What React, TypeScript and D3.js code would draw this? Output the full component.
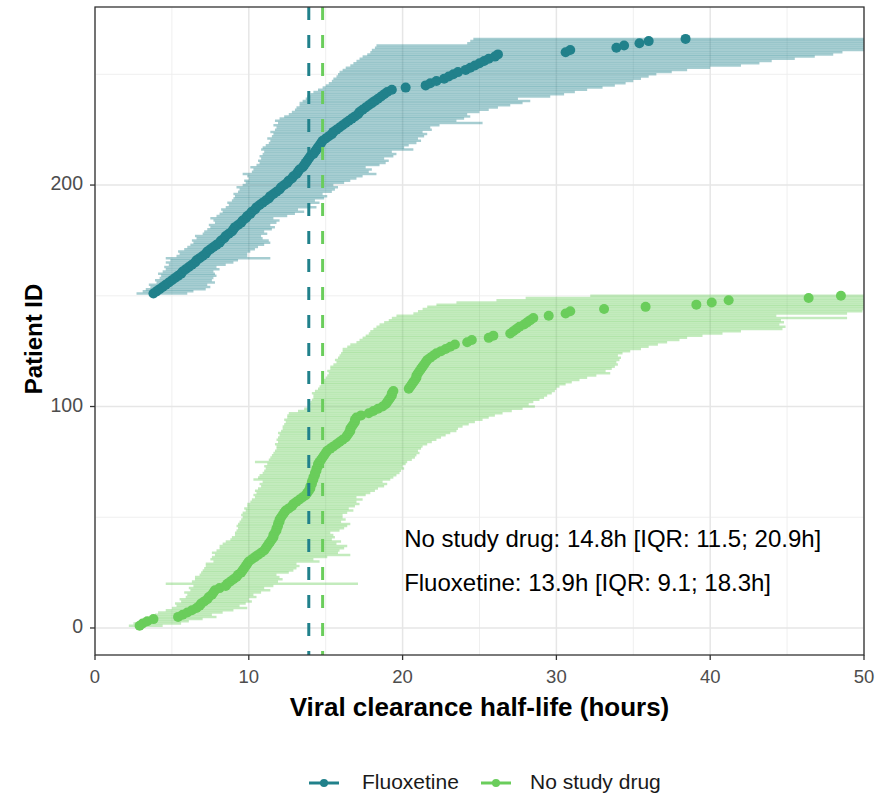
import React from 'react';
import * as d3 from 'd3';

// Groups and colours
const GROUPS = ['Fluoxetine', 'No study drug'];
const COLORS = ['#21818b', '#6acd5b'];
const MEDIANS = [13.9, 14.8];

const X_TICKS = [0, 10, 20, 30, 40, 50];
const X_MINOR = [5, 15, 25, 35, 45];
const Y_TICKS = [0, 100, 200];
const Y_MINOR = [50, 150, 250];

const ANNOTATIONS = [
  'No study drug: 14.8h [IQR: 11.5; 20.9h]',
  'Fluoxetine: 13.9h [IQR: 9.1; 18.3h]',
];

// Fluoxetine patients, IDs 151..266 (sorted by median half-life)
const FX_FIRST_ID = 151;
const FX_MID = [
  3.8, 4.0, 4.2, 4.4, 4.6, 4.8, 5.0, 5.2, 5.4, 5.6,
  5.7, 5.9, 6.1, 6.3, 6.5, 6.6, 6.8, 7.0, 7.2, 7.3,
  7.5, 7.7, 7.9, 8.1, 8.2, 8.4, 8.5, 8.7, 8.9, 9.0,
  9.1, 9.3, 9.5, 9.6, 9.8, 9.9, 10.1, 10.2, 10.4, 10.5,
  10.7, 10.9, 11.1, 11.3, 11.4, 11.6, 11.8, 12.0, 12.1, 12.3,
  12.5, 12.6, 12.8, 12.9, 13.1, 13.2, 13.3, 13.5, 13.6, 13.7,
  13.8, 13.9, 14.0, 14.2, 14.3, 14.4, 14.5, 14.6, 14.7, 14.8,
  15.0, 15.2, 15.4, 15.5, 15.7, 15.9, 16.1, 16.3, 16.5, 16.7,
  16.9, 17.1, 17.2, 17.4, 17.6, 17.8, 18.0, 18.2, 18.4, 18.6,
  18.8, 19.0, 19.3, 20.2, 21.5, 21.8, 22.2, 22.7, 23.0, 23.3,
  23.6, 24.1, 24.4, 24.7, 25.0, 25.3, 25.6, 26.0, 26.2, 30.6,
  30.9, 33.9, 34.4, 35.4, 36.0, 38.4,
];
const FX_LO = [
  2.7, 3.1, 3.3, 3.6, 3.5, 4.0, 3.9, 4.2, 4.3, 4.1,
  4.4, 4.6, 4.5, 4.8, 4.6, 4.9, 4.6, 5.3, 5.5, 5.4,
  5.8, 6.0, 6.2, 6.4, 6.3, 6.6, 6.5, 7.0, 7.1, 7.3,
  7.5, 7.4, 7.8, 7.7, 7.5, 7.9, 8.1, 8.3, 8.2, 8.5,
  8.7, 8.6, 8.9, 9.0, 9.1, 9.0, 9.3, 9.4, 9.2, 9.6,
  9.8, 9.7, 10.0, 9.9, 9.6, 10.2, 10.3, 10.1, 10.5, 10.7,
  10.6, 10.8, 10.7, 10.9, 11.0, 10.8, 10.9, 11.1, 11.3, 11.4,
  11.2, 11.5, 11.6, 11.4, 11.7, 11.8, 11.6, 11.9, 11.7, 12.0,
  12.3, 12.6, 12.8, 13.0, 13.1, 13.3, 13.3, 13.5, 13.7, 13.8,
  14.0, 14.2, 14.5, 14.8, 15.0, 15.2, 15.4, 15.5, 15.7, 15.8,
  15.9, 16.1, 16.3, 16.6, 16.8, 17.0, 17.2, 17.4, 17.7, 17.9,
  18.0, 18.2, 18.3, 24.2, 24.4, 24.6,
];
const FX_HI = [
  6.0, 6.4, 7.2, 7.5, 7.3, 7.8, 7.6, 7.7, 7.9, 7.8,
  7.7, 8.1, 7.9, 8.5, 9.0, 9.3, 11.4, 9.9, 9.9, 10.1,
  10.4, 10.6, 11.0, 11.4, 11.3, 10.9, 10.8, 11.2, 11.0, 11.5,
  11.7, 11.4, 11.8, 12.0, 11.6, 12.5, 13.0, 13.6, 13.2, 14.4,
  14.0, 14.6, 14.3, 14.9, 15.1, 14.8, 15.4, 15.6, 15.8, 15.5,
  16.2, 16.6, 17.0, 17.4, 18.3, 17.8, 18.0, 17.6, 18.5, 18.9,
  19.1, 18.8, 19.4, 19.6, 19.3, 20.7, 20.1, 20.4, 20.9, 21.2,
  21.0, 21.4, 21.6, 21.3, 21.9, 21.8, 22.4, 25.2, 23.5, 24.0,
  24.4, 24.2, 25.0, 25.6, 26.2, 27.0, 27.8, 28.3, 27.5, 29.6,
  30.5, 31.2, 32.0, 33.0, 33.8, 34.5, 35.0, 35.5, 36.0, 36.5,
  37.5, 38.5, 40.0, 42.0, 43.2, 44.0, 45.5, 46.8, 48.0, 48.6,
  55, 58, 60, 62, 65, 70,
];

// No study drug patients, IDs 1..150
const ND_FIRST_ID = 1;
const ND_MID = [
  2.9, 3.1, 3.4, 3.8, 5.4, 5.7, 6.0, 6.3, 6.6, 6.8,
  6.9, 7.1, 7.3, 7.4, 7.6, 7.7, 7.8, 8.1, 8.5, 8.6,
  8.8, 9.0, 9.2, 9.3, 9.5, 9.6, 9.7, 9.8, 9.9, 10.0,
  10.2, 10.4, 10.6, 10.8, 11.0, 11.1, 11.2, 11.3, 11.4, 11.5,
  11.6, 11.6, 11.7, 11.8, 11.8, 11.9, 11.9, 12.0, 12.0, 12.1,
  12.2, 12.3, 12.4, 12.6, 12.8, 12.9, 13.1, 13.3, 13.5, 13.7,
  13.8, 13.9, 14.0, 14.0, 14.1, 14.1, 14.2, 14.2, 14.3, 14.3,
  14.4, 14.4, 14.5, 14.5, 14.6, 14.7, 14.8, 14.9, 15.0, 15.1,
  15.3, 15.5, 15.7, 15.9, 16.1, 16.3, 16.4, 16.5, 16.6, 16.6,
  16.7, 16.8, 16.9, 16.9, 17.0, 17.3, 17.8, 18.1, 18.4, 18.7,
  18.9, 19.0, 19.1, 19.2, 19.3, 19.3, 19.4, 20.4, 20.5, 20.6,
  20.7, 20.8, 20.9, 20.9, 21.0, 21.1, 21.2, 21.3, 21.4, 21.5,
  21.6, 21.8, 22.0, 22.2, 22.5, 22.8, 23.1, 23.4, 24.2, 24.5,
  25.6, 25.9, 27.0, 27.2, 27.4, 27.6, 27.9, 28.1, 28.3, 28.5,
  29.5, 30.6, 30.9, 33.1, 35.8, 39.1, 40.1, 41.2, 46.4, 48.5,
];
const ND_LO = [
  2.2, 2.5, 2.9, 3.1, 3.6, 3.9, 4.1, 4.6, 5.0, 5.3,
  5.2, 5.6, 5.5, 5.9, 6.0, 5.8, 6.2, 6.1, 6.4, 4.6,
  6.3, 6.5, 6.5, 6.8, 6.9, 7.0, 7.1, 7.2, 7.2, 7.7,
  7.5, 7.6, 7.8, 7.6, 7.9, 8.1, 8.1, 8.3, 8.5, 8.8,
  8.9, 9.1, 9.1, 9.2, 9.3, 9.2, 9.3, 9.4, 9.5, 9.6,
  9.5, 9.6, 9.8, 9.7, 9.9, 9.9, 10.1, 10.2, 10.4, 10.3,
  10.5, 10.4, 10.6, 10.8, 10.7, 10.9, 10.3, 10.6, 10.7, 10.9,
  11.0, 11.1, 11.0, 11.2, 10.4, 11.3, 11.4, 11.5, 11.6, 11.7,
  11.8, 11.8, 11.7, 11.9, 11.8, 11.9, 12.0, 11.9, 12.1, 12.2,
  12.2, 12.3, 12.4, 12.3, 12.5, 12.5, 12.6, 13.2, 13.6, 14.0,
  13.9, 14.0, 14.1, 14.2, 14.2, 14.1, 14.3, 14.5, 14.6, 14.7,
  14.8, 14.8, 15.0, 15.1, 15.2, 15.1, 15.3, 15.3, 15.5, 15.7,
  15.6, 15.8, 15.9, 16.0, 16.1, 16.1, 16.4, 16.6, 17.0, 17.2,
  17.4, 17.6, 17.8, 17.9, 18.1, 18.3, 18.5, 18.8, 19.1, 19.3,
  19.6, 20.7, 21.0, 21.3, 21.6, 22.2, 23.5, 26.1, 28.0, 32.2,
];
const ND_HI = [
  4.4, 5.6, 6.1, 7.0, 7.9, 7.6, 8.3, 9.0, 9.9, 9.4,
  9.8, 10.2, 10.0, 10.5, 10.3, 10.8, 11.4, 11.0, 11.6, 17.1,
  11.9, 12.2, 12.0, 11.8, 12.6, 12.9, 13.1, 13.3, 13.1, 14.6,
  14.2, 15.1, 16.6, 15.8, 15.9, 16.2, 16.4, 15.7, 16.0, 15.4,
  15.6, 15.5, 15.3, 15.9, 16.2, 16.4, 16.6, 16.0, 16.3, 16.1,
  16.1, 16.4, 16.8, 16.5, 16.9, 17.2, 17.0, 17.4, 17.0, 17.6,
  17.9, 18.2, 18.4, 18.8, 19.0, 18.7, 19.2, 19.4, 19.6, 19.8,
  19.9, 20.1, 20.0, 20.2, 20.3, 20.6, 20.8, 20.9, 21.1, 21.0,
  21.2, 21.3, 21.6, 21.9, 22.2, 22.5, 22.8, 23.1, 23.5, 23.6,
  23.9, 24.3, 24.7, 25.2, 25.6, 26.0, 26.5, 27.1, 27.8, 28.6,
  28.2, 28.5, 28.9, 29.2, 29.4, 29.7, 29.9, 30.0, 30.2, 30.6,
  31.0, 31.5, 32.0, 32.6, 33.5, 33.2, 33.6, 33.8, 34.0, 33.9,
  34.1, 34.2, 34.0, 34.3, 34.8, 35.5, 36.0, 36.6, 37.2, 38.0,
  38.5, 39.5, 40.8, 42.0, 44.7, 44.9, 44.5, 44.8, 44.6, 48.9,
  44.3, 48.9, 49.9, 52, 55, 58, 60, 62, 65, 70,
];

const FONT = "'Liberation Sans', Arial, Helvetica, sans-serif";

interface Row { id: number; mid: number; lo: number; hi: number; }

const toRows = (first: number, mid: number[], lo: number[], hi: number[]): Row[] =>
  mid.map((m, i) => ({ id: first + i, mid: m, lo: lo[i], hi: hi[i] }));

const App: React.FC = () => {
  const width = 881;
  const height = 795;
  const margin = { top: 7, right: 17, bottom: 140, left: 95 };
  const x = d3.scaleLinear().domain([0, 50]).range([margin.left, width - margin.right]);
  const y = d3.scaleLinear().domain([-12.2, 280.4]).range([height - margin.bottom, margin.top]);
  const [x0, x1] = x.range();
  const [yb, yt] = y.range();

  const groups = [
    toRows(FX_FIRST_ID, FX_MID, FX_LO, FX_HI),
    toRows(ND_FIRST_ID, ND_MID, ND_LO, ND_HI),
  ];

  const legendY = 783;
  const legendItems = [
    { key: 309, text: 362 },
    { key: 481, text: 530 },
  ];

  return (
    <svg
      width={width}
      height={height}
      style={{ position: 'absolute', left: 0, top: 0, display: 'block', background: '#fff' }}
      fontFamily={FONT}
    >
      <defs>
        <clipPath id="panel">
          <rect x={x0} y={yt} width={x1 - x0} height={yb - yt} />
        </clipPath>
      </defs>

      {/* grid */}
      <g>
        {X_MINOR.map(v => (
          <line key={'xm' + v} x1={x(v)} x2={x(v)} y1={yt} y2={yb} stroke="#ededed" strokeWidth={0.9} />
        ))}
        {Y_MINOR.map(v => (
          <line key={'ym' + v} x1={x0} x2={x1} y1={y(v)} y2={y(v)} stroke="#ededed" strokeWidth={0.9} />
        ))}
        {X_TICKS.map(v => (
          <line key={'xg' + v} x1={x(v)} x2={x(v)} y1={yt} y2={yb} stroke="#e6e6e6" strokeWidth={1.5} />
        ))}
        {Y_TICKS.map(v => (
          <line key={'yg' + v} x1={x0} x2={x1} y1={y(v)} y2={y(v)} stroke="#e6e6e6" strokeWidth={1.5} />
        ))}
      </g>

      <g clipPath="url(#panel)">
        {/* interval bars */}
        {groups.map((rows, gi) => (
          <g key={'bars' + gi} stroke={COLORS[gi]} strokeOpacity={0.4} strokeWidth={2.5}>
            {rows.map(r => (
              <line key={r.id} x1={x(r.lo)} x2={x(r.hi)} y1={y(r.id)} y2={y(r.id)} />
            ))}
          </g>
        ))}
        {/* median points */}
        {groups.map((rows, gi) => (
          <g key={'pts' + gi} fill={COLORS[gi]}>
            {rows.map(r => (
              <circle key={r.id} cx={x(r.mid)} cy={y(r.id)} r={5} />
            ))}
          </g>
        ))}
        {/* group medians */}
        {MEDIANS.map((m, gi) => (
          <line
            key={'med' + gi}
            x1={x(m)} x2={x(m)} y1={yt} y2={yb}
            stroke={COLORS[gi]} strokeWidth={3} strokeDasharray="13 15"
          />
        ))}
      </g>

      {/* panel border */}
      <rect x={x0} y={yt} width={x1 - x0} height={yb - yt} fill="none" stroke="#333" strokeWidth={1.3} />

      {/* annotations */}
      {ANNOTATIONS.map((t, i) => (
        <text key={t} x={x(20.1)} y={y(39.5 - i * 20)} fontSize={24} fill="#000" dominantBaseline="middle">
          {t}
        </text>
      ))}

      {/* x axis */}
      {X_TICKS.map(v => (
        <g key={'xt' + v}>
          <line x1={x(v)} x2={x(v)} y1={yb} y2={yb + 5} stroke="#333" strokeWidth={1.3} />
          <text x={x(v)} y={yb + 28} textAnchor="middle" fontSize={18.5} fill="#4d4d4d">{v}</text>
        </g>
      ))}
      {/* y axis */}
      {Y_TICKS.map(v => (
        <g key={'yt' + v}>
          <line x1={x0 - 5} x2={x0} y1={y(v)} y2={y(v)} stroke="#333" strokeWidth={1.3} />
          <text x={x0 - 12} y={y(v)} textAnchor="end" dominantBaseline="middle" fontSize={19.5} fill="#4d4d4d">{v}</text>
        </g>
      ))}

      <text x={(x0 + x1) / 2} y={716} textAnchor="middle" fontSize={26} fontWeight="bold" fill="#000">
        Viral clearance half-life (hours)
      </text>
      <text
        transform={`translate(${42},${(yt + yb) / 2 + 8}) rotate(-90)`}
        textAnchor="middle"
        fontSize={24}
        fontWeight="bold"
        fill="#000"
      >
        Patient ID
      </text>

      {/* legend */}
      {GROUPS.map((g, i) => (
        <g key={g}>
          <line x1={legendItems[i].key} x2={legendItems[i].key + 30} y1={legendY} y2={legendY} stroke={COLORS[i]} strokeWidth={3} />
          <circle cx={legendItems[i].key + 15} cy={legendY} r={4} fill={COLORS[i]} />
          <text x={legendItems[i].text} y={legendY} dominantBaseline="middle" fontSize={21} fill="#1a1a1a">{g}</text>
        </g>
      ))}
    </svg>
  );
};

export default App;
